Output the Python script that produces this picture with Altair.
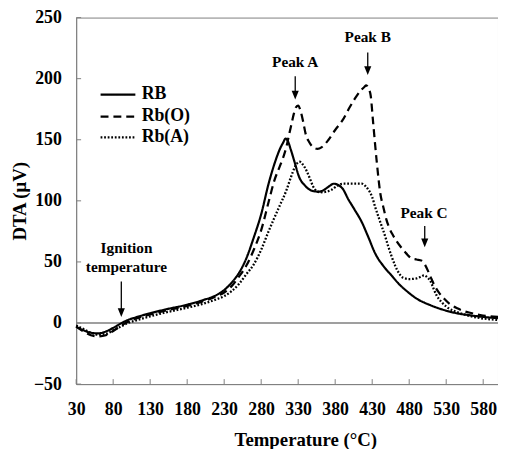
import altair as alt
import pandas as pd

# ---------------- data ----------------
SERIES = ["RB", "Rb(O)", "Rb(A)"]

RB_T = [30, 40, 50, 60, 70, 80, 90, 100, 110, 130, 150, 180, 200, 220, 230, 240, 250, 260, 270,
        280, 290, 300, 305, 310, 313, 316, 320, 325, 331, 340, 350, 358, 365, 372, 378, 384, 390,
        398, 406, 416, 425, 434, 446, 456, 466, 477, 490, 509, 525, 544, 560, 580, 600]
RB_V = [-3, -6, -8, -8.5, -7, -4, -0.5, 2.5, 4.5, 8, 11, 15, 18.5, 23, 27, 33, 41, 53, 70,
        89, 114, 134, 142, 148, 151, 149, 142, 132, 120, 112, 108, 107.5, 109, 112, 114, 113, 110,
        101, 93, 82.5, 70, 57, 46, 39, 32, 26, 20, 14.5, 11, 8, 6.5, 5, 4]

RO_T = [30, 40, 50, 60, 70, 80, 90, 100, 110, 130, 150, 180, 200, 220, 230, 240, 250, 260, 270,
        280, 290, 298, 305, 310, 314, 318, 321, 324, 327, 330, 333, 337, 340, 345, 350, 356, 362,
        371, 380, 390, 400, 407, 414, 419, 422, 425, 428, 431, 436, 441, 445, 449, 453, 457, 463,
        469, 476, 483, 490, 497, 502, 508, 514, 520, 527, 535, 545, 555, 565, 576, 588, 600]
RO_V = [-3, -7, -10, -11, -10, -6.5, -2.5, 1, 3.5, 7, 10, 14, 17.5, 22, 25, 30, 38, 47, 60,
        76, 99, 117, 128, 136, 144, 155, 163, 171, 176.5, 178, 174, 164, 155, 148, 144, 142.5, 144,
        150, 158, 166, 177, 184, 190, 193, 194.5, 192, 186, 166, 133, 106, 95, 85, 78, 73, 67,
        62, 57, 53, 52, 51, 47, 39, 31, 25, 20, 15.5, 12, 9.5, 8, 6.5, 5.5, 5]

RA_T = [30, 40, 50, 60, 70, 80, 90, 100, 110, 130, 150, 180, 200, 220, 230, 240, 250, 260, 270,
        280, 290, 297, 305, 314, 320, 325, 329, 332, 336, 341, 346, 350, 355, 360, 368, 375, 382,
        390, 400, 410, 416, 421, 425, 430, 434, 439, 443, 447, 451, 456, 461, 467, 472, 480, 490,
        496, 500, 505, 509, 513, 517, 524, 531, 540, 549, 560, 576, 590, 600]
RA_V = [-2, -5, -8, -9.5, -9, -6, -3, 0, 2, 5.5, 8.5, 12.5, 15.5, 19.5, 22, 26, 32, 40, 48,
        60, 75, 85, 96, 108.5, 119, 127, 131, 132, 130, 125, 118, 112, 108, 107, 107.5, 109, 112,
        114, 114, 114, 114, 112, 109, 103, 95, 86, 79, 72, 64, 55, 47, 40, 37, 36, 36.5,
        38, 39, 37, 34, 28, 22.6, 17, 13, 10, 8, 6, 4, 3, 2.5]

X_TICKS = [30, 80, 130, 180, 230, 280, 330, 380, 430, 480, 530, 580]
Y_TICKS = [-50, 0, 50, 100, 150, 200, 250]

# annotations (text label, x, y) and arrows (x, top, tip)
NOTE_TEXT = ["Peak A", "Peak B", "Peak C", "Ignition", "temperature"]
NOTE_X = [326, 424, 500, 98, 98]
NOTE_Y = [213.5, 234, 90, 61, 46]
ARROW_X = [326, 424, 501, 91]
ARROW_TOP = [202, 221.5, 79.5, 34]
ARROW_TIP = [183, 203, 62, 5]

# manual legend rows
LEG_Y = [187, 169, 152]
LEG_X0, LEG_X1, LEG_TX = 63, 110, 118.5

# ---------------- build ----------------
rows = []
for name, T, V in [("RB", RB_T, RB_V), ("Rb(O)", RO_T, RO_V), ("Rb(A)", RA_T, RA_V)]:
    for t, v in zip(T, V):
        rows.append({"series": name, "T": t, "DTA": v})
df = pd.DataFrame(rows)

W, H = 427, 371
FONT = "Liberation Serif"
GRAY = "#7f7f7f"

x_scale = alt.Scale(domain=[30, 600], nice=False, zero=False)
y_scale = alt.Scale(domain=[-50, 250], nice=False, zero=False)
dash_scale = alt.Scale(domain=SERIES, range=[[1, 0], [8, 5], [1.8, 1.8]])
width_scale = alt.Scale(domain=SERIES, range=[2.2, 2.3, 1.8])

x_axis = alt.Axis(values=X_TICKS, title="Temperature (°C)", ticks=False, labelPadding=17,
                  grid=False, titleX=232, titleY=62, titleBaseline="alphabetic",
                  titleAlign="center", labelFlush=False, labelOverlap=False)
y_axis = alt.Axis(values=Y_TICKS, title="DTA (μV)", ticks=False, labelPadding=15,
                  grid=False, titleX=-51, titleY=H / 2, titleBaseline="alphabetic",
                  titleAlign="center", titleAngle=270, labelFlush=False, labelOverlap=False)


def X(field="T"):
    return alt.X(f"{field}:Q", scale=x_scale, axis=x_axis)


def Y(field="DTA"):
    return alt.Y(f"{field}:Q", scale=y_scale, axis=y_axis)


zero = alt.Chart(pd.DataFrame({"DTA": [0]})).mark_rule(color=GRAY, strokeWidth=1.3).encode(y=Y())

xt = alt.Chart(pd.DataFrame({"T": X_TICKS})).mark_rule(color=GRAY, strokeWidth=1).encode(
    x=X(), y=alt.value(H), y2=alt.value(H - 5))
yt = alt.Chart(pd.DataFrame({"DTA": Y_TICKS})).mark_rule(color=GRAY, strokeWidth=1).encode(
    y=Y(), x=alt.value(0), x2=alt.value(5))

lines = alt.Chart(df).mark_line(interpolate="monotone", color="black").encode(
    x=X(), y=Y(),
    strokeDash=alt.StrokeDash("series:N", scale=dash_scale, legend=None),
    strokeWidth=alt.StrokeWidth("series:N", scale=width_scale, legend=None),
    detail="series:N",
)

leg_df = pd.DataFrame({"series": SERIES, "DTA": LEG_Y, "T": [LEG_X0] * 3, "T2": [LEG_X1] * 3,
                       "TX": [LEG_TX] * 3})
leg_lines = alt.Chart(leg_df).mark_rule(color="black").encode(
    x=X(), x2="T2:Q", y=Y(),
    strokeDash=alt.StrokeDash("series:N", scale=dash_scale, legend=None),
    strokeWidth=alt.StrokeWidth("series:N", scale=width_scale, legend=None),
)
leg_text = alt.Chart(leg_df).mark_text(font=FONT, fontWeight="bold", fontSize=18, align="left",
                                       baseline="middle", color="black").encode(
    x=X("TX"), y=Y(), text="series:N")

notes = alt.Chart(pd.DataFrame({"label": NOTE_TEXT, "T": NOTE_X, "DTA": NOTE_Y})).mark_text(
    font=FONT, fontWeight="bold", fontSize=15.5, align="center", baseline="middle",
    color="black").encode(x=X(), y=Y(), text="label:N")

arr_df = pd.DataFrame({"T": ARROW_X, "DTA": ARROW_TOP, "TIP": [v + 3 for v in ARROW_TIP],
                       "TIPY": ARROW_TIP})
shafts = alt.Chart(arr_df).mark_rule(color="black", strokeWidth=1.3).encode(
    x=X(), y=Y(), y2="TIP:Q")
heads = alt.Chart(arr_df).mark_point(shape="M-0.9,-2.2L0.9,-2.2L0,0Z", filled=True, size=64,
                                     color="black", opacity=1).encode(x=X(), y=Y("TIPY"))

chart = alt.layer(zero, xt, yt, lines, leg_lines, leg_text, notes, shafts, heads).properties(
    width=W, height=H,
    autosize=alt.AutoSizeParams(type="none"),
    padding={"left": 69, "top": 7, "right": 0, "bottom": 63},
).configure_view(stroke=GRAY, strokeWidth=1).configure_axis(
    domainColor=GRAY, domainWidth=1,
    labelFont=FONT, labelFontWeight="bold", labelFontSize=18, labelColor="black",
    titleFont=FONT, titleFontWeight="bold", titleFontSize=19, titleColor="black",
)

chart.save("out.html", embed_options={"renderer": "svg", "actions": False})
